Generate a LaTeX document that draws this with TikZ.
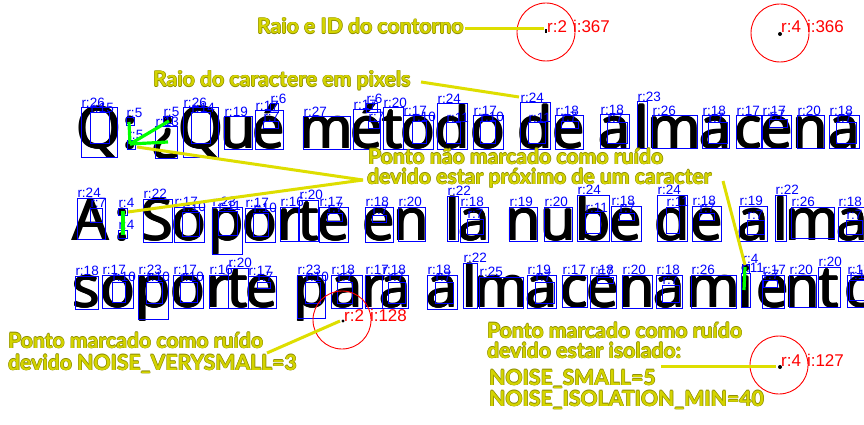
\documentclass[tikz,border=0pt]{standalone}
\usepackage{fontspec}
\newfontfamily\osans{Open Sans}
\newfontfamily\latof{Lato}
\newfontfamily\lsans{Liberation Sans}
\definecolor{ylite}{RGB}{212,212,0}
\definecolor{ydark}{RGB}{140,140,0}
\definecolor{yline}{RGB}{222,222,0}
\definecolor{pblue}{RGB}{0,0,255}
\definecolor{pgreen}{RGB}{0,255,0}
\definecolor{pred}{RGB}{255,0,0}
\newcounter{bxc}
\newcommand\bx[5]{\stepcounter{bxc}\draw[bbox] (#1,#2) rectangle (#3,#4); \node[blab] (bl\arabic{bxc}) at (#1,#2) {#5};}
\newcommand\yt[1]{\leavevmode\rlap{\textcolor{ydark}{\kern-.6pt#1}}\rlap{\textcolor{ydark}{\kern.6pt#1}}\rlap{\textcolor{ydark}{\raisebox{.6pt}{#1}}}\rlap{\textcolor{ydark}{\raisebox{-.6pt}{#1}}}\textcolor{ylite}{#1}}
\newcommand\fb[1]{\leavevmode\rlap{\kern-.9pt#1}\rlap{\kern.9pt#1}\rlap{\raisebox{.5pt}{#1}}\rlap{\raisebox{-.5pt}{#1}}#1}
\begin{document}
\begin{tikzpicture}[x=1pt,y=-1pt,
  chr/.style={font=\osans\fontsize{57.5}{57.5}\selectfont, anchor=base, inner sep=0pt, text=black},
  bbox/.style={draw=pblue, line width=1pt},
  blab/.style={font=\lsans\fontsize{13.5}{13.5}\selectfont, text=pblue, anchor=south west, inner sep=0.3pt},
  gline/.style={draw=pgreen, line width=3.2pt},
  ylin/.style={draw=yline, line width=3pt},
  ytext/.style={font=\latof\bfseries\fontsize{21.2}{21.2}\selectfont, anchor=base west, inner sep=0pt},
  rcirc/.style={draw=pred, line width=0.9pt},
  rlab/.style={font=\lsans\fontsize{17}{17}\selectfont, text=pred, anchor=base west, inner sep=0pt}]
\fill[white] (0,0) rectangle (864,425);
\useasboundingbox (0,0) rectangle (864,425);
% ---- black text, one node per character
\foreach \x/\c [count=\i] in {99/Q,130.5/:,166/¿,200.5/Q,238.5/u,269/é,326.5/m,366.5/é,393/t,418/o,452/d,488/o,535/d,569/e,614.5/a,642/l,674.5/m,715.5/a,748.5/c,776.5/e,810.5/n,844/a}
  \node[chr] (ta\i) at (\x,148) {\fb{\c}};
\foreach \x/\c [count=\i] in {91/A,122.5/:,157.5/S,189/o,226.5/p,260/o,289/r,308.5/t,333.5/e,379/e,411.5/n,452.5/l,474/a,523/n,558/u,593/b,626/e,672/d,706.5/e,753/a,780.5/l,812.5/m,852/a}
  \node[chr] (tb\i) at (\x,240) {\fb{\c}};
\foreach \x/\c [count=\i] in {86.5/s,117.5/o,153/p,188/o,218.5/r,238/t,262/e,311/p,346.5/a,373.5/r,395/a,442/a,470/l,501/m,541.5/a,574.5/c,603/e,637/n,669/a,713.5/m,745.5/i,773/e,802.5/n,829/t,862/o}
  \node[chr] (tc\i) at (\x,307) {\fb{\c}};
% ---- blue boxes, line 1
\bx{81}{108}{117}{157}{r:26}\bx{90}{113}{109}{143}{r:15}
\bx{126}{118}{134}{126}{r:5}\bx{127}{140}{135}{149}{r:5}
\bx{163}{117}{172}{124}{r:5}\bx{155}{127}{177}{158}{r:13}
\bx{183}{108}{218}{157}{r:26}\bx{191}{113}{210}{143}{r:14}
\bx{224}{117}{252}{149}{r:19}
\bx{255}{111}{283}{149}{r:17}\bx{270}{104}{278}{113}{r:6}\bx{263}{122}{278}{129}{r:7}
\bx{303}{117}{350}{149}{r:27}
\bx{353}{110}{380}{149}{r:17}\bx{366}{104}{377}{113}{r:6}\bx{368}{122}{379}{129}{r:7}
\bx{383}{108}{403}{149}{r:20}
\bx{403}{116}{433}{149}{r:17}\bx{412}{122}{426}{143}{r:10}
\bx{437}{104}{467}{149}{r:24}\bx{446}{123}{460}{143}{r:11}
\bx{473}{116}{503}{149}{r:17}\bx{480}{122}{495}{143}{r:10}
\bx{520}{103}{550}{149}{r:24}\bx{528}{123}{545}{143}{r:11}
\bx{555}{116}{583}{149}{r:18}\bx{561}{122}{578}{129}{r:7}
\bx{600}{115}{629}{148}{r:18}\bx{607}{123}{627}{143}{r:7}
\bx{637}{102}{647}{148}{r:23}
\bx{652}{116}{697}{148}{r:26}
\bx{702}{116}{729}{148}{r:18}\bx{708}{123}{727}{143}{r:7}
\bx{736}{116}{761}{148}{r:17}
\bx{762}{116}{791}{148}{r:17}\bx{769}{120}{787}{128}{r:7}
\bx{797}{116}{824}{148}{r:20}
\bx{829}{116}{859}{148}{r:18}\bx{836}{123}{856}{143}{r:7}
% ---- line 2
\bx{77}{198}{105}{239}{r:24}\bx{90}{208}{102}{222}{r:7}
\bx{118}{208}{127}{215}{r:4}\bx{118}{230}{127}{238}{r:4}
\bx{143}{199}{172}{242}{r:22}
\bx{174}{207}{204}{242}{r:17}\bx{182}{212}{199}{236}{r:10}
\bx{212}{207}{242}{254}{r:23}\bx{218}{211}{237}{235}{r:11}
\bx{245}{208}{275}{242}{r:17}\bx{253}{213}{268}{236}{r:10}
\bx{280}{207}{298}{241}{r:16}
\bx{299}{200}{318}{241}{r:20}
\bx{319}{207}{348}{242}{r:17}\bx{327}{213}{342}{221}{r:7}
\bx{365}{207}{393}{242}{r:18}\bx{372}{215}{386}{222}{r:7}
\bx{398}{207}{425}{241}{r:20}
\bx{447}{196}{458}{241}{r:22}
\bx{460}{207}{488}{242}{r:18}\bx{467}{219}{483}{234}{r:7}
\bx{509}{207}{537}{241}{r:19}
\bx{544}{207}{572}{241}{r:20}
\bx{577}{195}{609}{241}{r:24}\bx{585}{213}{600}{233}{r:11}
\bx{611}{206}{641}{241}{r:18}\bx{619}{213}{634}{220}{r:7}
\bx{657}{195}{687}{241}{r:24}\bx{666}{207}{679}{233}{r:11}
\bx{692}{206}{721}{241}{r:18}\bx{699}{213}{714}{220}{r:7}
\bx{739}{206}{767}{241}{r:19}\bx{747}{220}{764}{234}{r:7}
\bx{775}{195}{786}{241}{r:22}
\bx{791}{207}{834}{238}{r:26}
\bx{838}{207}{866}{241}{r:18}\bx{846}{220}{862}{234}{r:7}
% ---- line 3
\bx{75}{276}{98}{309}{r:18}
\bx{102}{275}{133}{308}{r:17}\bx{112}{282}{125}{302}{r:10}
\bx{138}{275}{168}{319}{r:23}\bx{146}{282}{162}{303}{r:10}
\bx{173}{275}{203}{308}{r:17}\bx{180}{282}{197}{302}{r:10}
\bx{209}{275}{228}{308}{r:16}
\bx{228}{268}{248}{308}{r:20}
\bx{248}{276}{276}{308}{r:17}\bx{257}{282}{270}{288}{r:7}
\bx{297}{275}{325}{318}{r:23}\bx{305}{282}{320}{303}{r:10}
\bx{331}{275}{362}{308}{r:18}\bx{337}{282}{352}{303}{r:7}
\bx{365}{275}{382}{308}{r:17}
\bx{382}{275}{408}{308}{r:18}\bx{388}{282}{405}{303}{r:7}
\bx{427}{275}{457}{309}{r:18}\bx{435}{282}{453}{303}{r:7}
\bx{463}{263}{477}{308}{r:22}
\bx{479}{277}{523}{308}{r:25}
\bx{527}{275}{556}{308}{r:19}\bx{535}{282}{554}{303}{r:7}
\bx{562}{275}{587}{307}{r:17}
\bx{590}{275}{616}{308}{r:18}\bx{597}{277}{613}{283}{r:7}
\bx{622}{275}{652}{308}{r:20}
\bx{656}{275}{682}{308}{r:18}\bx{662}{285}{679}{302}{r:7}
\bx{691}{275}{736}{308}{r:26}
\bx{741}{273}{750}{307}{r:11}\bx{742}{264}{749}{273}{r:4}
\bx{762}{275}{784}{308}{r:17}\bx{763}{280}{777}{287}{r:7}
\bx{789}{275}{816}{307}{r:20}
\bx{818}{267}{840}{307}{r:20}
\bx{847}{275}{870}{307}{r:17}\bx{849}{280}{864}{300}{r:10}
% ---- green links
\coordinate (g0) at (130,144);
\coordinate (g1) at (129,122);
\coordinate (g2) at (169,121);
\coordinate (g3) at (168,142);
\draw[gline] (g0) -- (g1); \draw[gline] (g0) -- (g2); \draw[gline] (g0) -- (g3);
\coordinate (g4) at (123,211); \coordinate (g5) at (123,235);
\draw[gline] (g4) -- (g5);
\coordinate (g6) at (745,267); \coordinate (g7) at (744,290);
\draw[gline] (g6) -- (g7);
% ---- red circles
\node[circle, rcirc, minimum size=58pt, inner sep=0pt] (c1) at (546,32) {};
\node[circle, rcirc, minimum size=58pt, inner sep=0pt] (c2) at (780,33) {};
\node[circle, rcirc, minimum size=58pt, inner sep=0pt] (c3) at (342,320) {};
\node[circle, rcirc, minimum size=58pt, inner sep=0pt] (c4) at (779,365) {};
\fill[black] (544.5,29) rectangle (546.5,33);
\fill[black] (780,34) circle (2);
\fill[black] (343,321) circle (1.6);
\fill[black] (780,367) circle (2);
\node[rlab] (rl1) at (547,33) {r:2\kern6pt i:367};
\node[rlab] (rl2) at (781,33) {r:4\kern6pt i:366};
\node[rlab] (rl3) at (344,321) {r:2\kern6pt i:128};
\node[rlab] (rl4) at (781,366) {r:4\kern6pt i:127};
% ---- yellow connectors
\coordinate (y1a) at (465,29); \coordinate (y1b) at (544,29);
\coordinate (y2a) at (421,82); \coordinate (y2b) at (519,97);
\coordinate (y3m) at (363,180); \coordinate (y3a) at (137,147); \coordinate (y3b) at (128,212);
\coordinate (y4a) at (723,181); \coordinate (y4b) at (745,265);
\coordinate (y5a) at (267,353); \coordinate (y5b) at (340,321);
\coordinate (y6a) at (661,366); \coordinate (y6b) at (776,366);
\draw[ylin] (y1a) -- (y1b);
\draw[ylin] (y2a) -- (y2b);
\draw[ylin] (y3m) -- (y3a);
\draw[ylin] (y3m) -- (y3b);
\draw[ylin] (y4a) -- (y4b);
\draw[ylin] (y5a) -- (y5b);
\draw[ylin] (y6a) -- (y6b);
% ---- yellow annotations
\node[ytext] (a1) at (257,34) {\yt{Raio e ID do contorno}};
\node[ytext] (a2) at (153,87) {\yt{Raio do caractere em pixels}};
\node[ytext] (a3) at (368,164) {\yt{Ponto não marcado como ruído}};
\node[ytext] (a4) at (367,184) {\yt{devido estar próximo de um caracter}};
\node[ytext] (a5) at (8,348) {\yt{Ponto marcado como ruído}};
\node[ytext] (a6) at (8,370) {\yt{devido NOISE\_VERYSMALL=3}};
\node[ytext] (a7) at (487,338) {\yt{Ponto marcado como ruído}};
\node[ytext] (a8) at (487,358) {\yt{devido estar isolado:}};
\node[ytext] (a9) at (489,385) {\yt{NOISE\_SMALL=5}};
\node[ytext] (a10) at (489,406) {\yt{NOISE\_ISOLATION\_MIN=40}};
\end{tikzpicture}
\end{document}
